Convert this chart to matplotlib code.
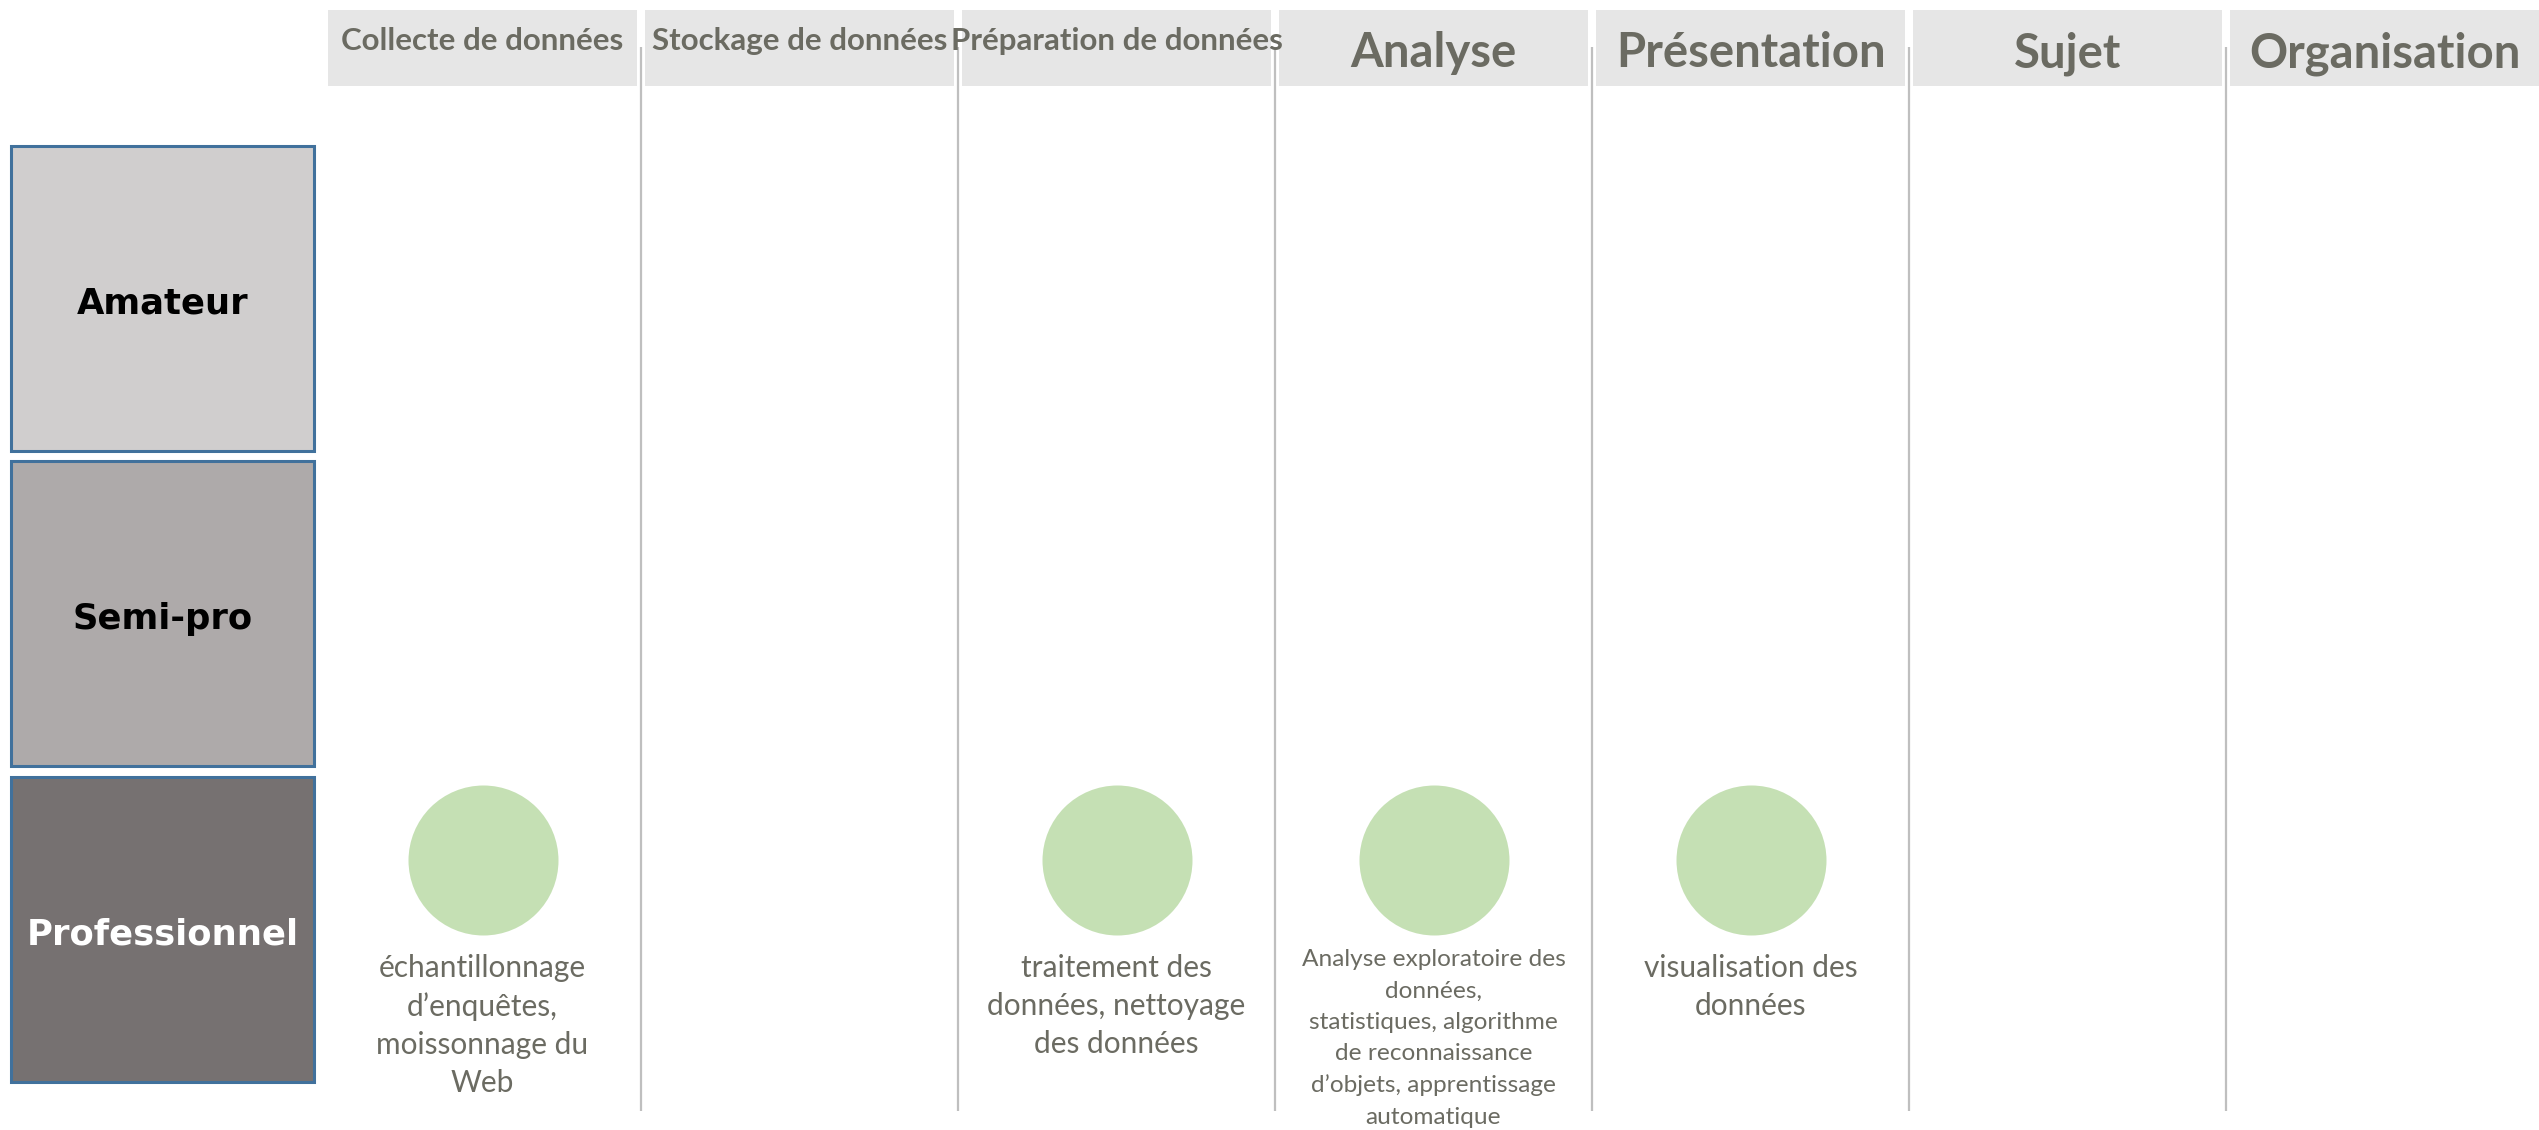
import numpy as np
import matplotlib
matplotlib.use("Agg")
import matplotlib.pyplot as plt
from matplotlib import font_manager as fm

# Data
stages = ["Collecte de données", "Stockage de données", "Préparation de données",
          "Analyse", "Présentation", "Sujet", "Organisation"]
levels = ["Amateur", "Semi-pro", "Professionnel"]

# which (stage, level) cells have a mark, plus the note shown under it
mark_stage = [0, 2, 3, 4]
mark_level = [2, 2, 2, 2]
mark_notes = [
    "échantillonnage\nd’enquêtes,\nmoissonnage du\nWeb",
    "traitement des\ndonnées, nettoyage\ndes données",
    "Analyse exploratoire des\ndonnées,\nstatistiques, algorithme\nde reconnaissance\nd’objets, apprentissage\nautomatique",
    "visualisation des\ndonnées",
]

# Styles
level_fill = ["#d0cece", "#aeaaaa", "#767171"]
level_text = ["black", "black", "white"]
header_big = [False, False, False, True, True, True, True]
note_small = [False, False, True, False]
grey_text = "#6b6b62"
circle_col = "#c5e0b4"


def pick(names):
    for n in names:
        try:
            fm.findfont(fm.FontProperties(family=n), fallback_to_default=False)
            return n
        except ValueError:
            pass
    return "DejaVu Sans"


head_font = pick(["Liberation Sans Narrow", "Lato"])
body_font = pick(["Lato", "Open Sans"])


def create_chart():
    fig = plt.figure(figsize=(25.39, 11.30), dpi=100)
    ax = fig.add_axes([0, 0, 1, 1])
    ax.set_xlim(-1.022, 6.987)
    ax.set_ylim(3.1189, -0.4628)
    ax.axis("off")

    cols = np.arange(len(stages))
    rows = np.arange(len(levels))

    # column separators
    ax.vlines(cols[1:], -0.314, 3.059, color="#bfbfbf", linewidth=1.6, zorder=1)

    # header boxes
    ax.bar(cols + 0.5, 0.241, bottom=-0.431, width=0.975, color="#e6e6e6", zorder=2)
    for c, name in enumerate(stages):
        if header_big[c]:
            ax.text(c + 0.5, -0.25, name, ha="center", va="baseline", fontsize=34,
                    fontweight="bold", color=grey_text, family=head_font, zorder=3)
        else:
            ax.text(c + 0.5, -0.305, name, ha="center", va="baseline", fontsize=22.5,
                    fontweight="bold", color=grey_text, family=head_font, zorder=3)

    # level boxes
    ax.barh(rows + 0.483, 0.956, left=-0.987, height=0.967, color=level_fill,
            edgecolor="#41719c", linewidth=2.2, zorder=2)
    for r, name in enumerate(levels):
        ax.text(-0.51, r + 0.5, name, ha="center", va="center", fontsize=25.5,
                fontweight="bold", color=level_text[r], family="DejaVu Sans", zorder=3)

    # marks
    xs = np.array(mark_stage) + 0.5
    ys = np.array(mark_level) + 0.263
    ax.scatter(xs, ys, s=108 ** 2, color=circle_col, linewidths=0, zorder=3)
    for x, y, note, small in zip(xs, ys, mark_notes, note_small):
        if small:
            ax.text(x, y + 0.283, note, ha="center", va="top", fontsize=17.6,
                    color=grey_text, family=body_font, linespacing=1.6, zorder=3)
        else:
            ax.text(x, y + 0.297, note, ha="center", va="top", fontsize=21.5,
                    color=grey_text, family=body_font, linespacing=1.44, zorder=3)

    fig.savefig("out.png", dpi=100, facecolor="white")
    plt.close(fig)


def main():
    create_chart()


if __name__ == "__main__":
    main()
